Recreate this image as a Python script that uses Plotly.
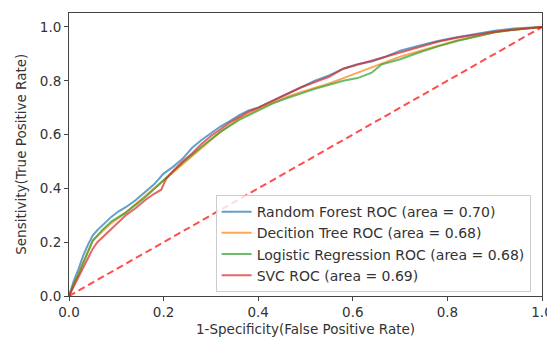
import plotly.graph_objects as go

# ROC data
rf_fpr = [0, 0.005, 0.01, 0.02, 0.03, 0.04, 0.05, 0.06, 0.075, 0.09, 0.105, 0.12, 0.14, 0.16, 0.18, 0.20, 0.22, 0.24, 0.26, 0.28, 0.30, 0.32, 0.34, 0.36, 0.38, 0.40, 0.43, 0.46, 0.49, 0.52, 0.55, 0.58, 0.61, 0.64, 0.67, 0.70, 0.74, 0.78, 0.82, 0.86, 0.90, 0.94, 0.97, 1.0]
rf_tpr = [0, 0.03, 0.055, 0.10, 0.15, 0.19, 0.225, 0.245, 0.27, 0.295, 0.315, 0.33, 0.355, 0.385, 0.415, 0.455, 0.48, 0.51, 0.55, 0.58, 0.605, 0.63, 0.65, 0.672, 0.69, 0.70, 0.725, 0.75, 0.775, 0.80, 0.82, 0.845, 0.862, 0.872, 0.89, 0.912, 0.93, 0.948, 0.962, 0.975, 0.986, 0.994, 0.998, 1.0]

dt_fpr = [0, 0.01, 0.02, 0.03, 0.04, 0.05, 0.07, 0.09, 0.12, 0.16, 0.20, 0.24, 0.28, 0.32, 0.36, 0.40, 0.43, 0.46, 0.49, 0.52, 0.55, 0.58, 0.61, 0.64, 0.67, 0.70, 0.74, 0.78, 0.82, 0.86, 0.90, 0.94, 0.97, 1.0]
dt_tpr = [0, 0.045, 0.085, 0.125, 0.165, 0.205, 0.24, 0.272, 0.31, 0.37, 0.43, 0.49, 0.55, 0.61, 0.66, 0.695, 0.718, 0.74, 0.758, 0.775, 0.79, 0.81, 0.83, 0.85, 0.87, 0.89, 0.91, 0.93, 0.95, 0.965, 0.98, 0.99, 0.996, 1.0]

lr_fpr = [0, 0.01, 0.02, 0.03, 0.04, 0.05, 0.07, 0.09, 0.12, 0.16, 0.20, 0.24, 0.28, 0.32, 0.36, 0.40, 0.43, 0.46, 0.49, 0.52, 0.55, 0.58, 0.61, 0.64, 0.66, 0.70, 0.74, 0.78, 0.82, 0.86, 0.90, 0.94, 0.97, 1.0]
lr_tpr = [0, 0.045, 0.08, 0.12, 0.16, 0.205, 0.245, 0.278, 0.31, 0.365, 0.43, 0.495, 0.555, 0.61, 0.655, 0.69, 0.715, 0.735, 0.753, 0.77, 0.785, 0.80, 0.81, 0.83, 0.86, 0.88, 0.905, 0.928, 0.948, 0.965, 0.98, 0.99, 0.996, 1.0]

svc_fpr = [0, 0.01, 0.02, 0.03, 0.04, 0.05, 0.06, 0.075, 0.09, 0.105, 0.12, 0.14, 0.16, 0.18, 0.195, 0.205, 0.22, 0.24, 0.26, 0.28, 0.30, 0.32, 0.34, 0.36, 0.38, 0.40, 0.43, 0.46, 0.49, 0.52, 0.55, 0.58, 0.61, 0.64, 0.67, 0.70, 0.74, 0.78, 0.82, 0.86, 0.90, 0.94, 0.97, 1.0]
svc_tpr = [0, 0.035, 0.07, 0.10, 0.135, 0.175, 0.2, 0.225, 0.25, 0.275, 0.30, 0.325, 0.355, 0.38, 0.395, 0.435, 0.465, 0.50, 0.53, 0.565, 0.595, 0.62, 0.645, 0.665, 0.685, 0.70, 0.725, 0.748, 0.775, 0.795, 0.815, 0.845, 0.86, 0.875, 0.89, 0.905, 0.925, 0.945, 0.96, 0.972, 0.982, 0.99, 0.996, 1.0]

chance = [0, 1]

names = ["Random Forest ROC (area = 0.70)", "Decition Tree ROC (area = 0.68)",
         "Logistic Regression ROC (area = 0.68)", "SVC ROC (area = 0.69)"]
colors = ["rgba(31,119,180,0.7)", "rgba(255,127,14,0.7)", "rgba(44,160,44,0.7)", "rgba(214,39,40,0.7)"]
series = [(rf_fpr, rf_tpr), (dt_fpr, dt_tpr), (lr_fpr, lr_tpr), (svc_fpr, svc_tpr)]

fig = go.Figure()
for (fx, ty), n, c in zip(series, names, colors):
    fig.add_trace(go.Scatter(x=fx, y=ty, mode="lines", name=n, line=dict(color=c, width=2)))
fig.add_trace(go.Scatter(x=chance, y=chance, mode="lines", showlegend=False,
                         line=dict(color="rgba(255,0,0,0.7)", width=2, dash="7px,4px")))

font = dict(family="DejaVu Sans", size=14, color="#333")
tfont = dict(family="DejaVu Sans", size=13.5, color="#333")
axis_common = dict(showline=True, linecolor="#444", linewidth=1, mirror=True, ticks="outside",
                   ticklen=4, tickcolor="#444", showgrid=False, zeroline=False, tickformat=".1f",
                   tickfont=tfont, automargin=False, ticklabeloverflow="allow")
fig.update_layout(
    width=547, height=337,
    margin=dict(l=69, r=5, t=13, b=41, autoexpand=False),
    paper_bgcolor="white", plot_bgcolor="white",
    font=font,
    xaxis=dict(range=[0, 1], dtick=0.2, **axis_common),
    yaxis=dict(range=[0, 1.052], tickvals=[0, 0.2, 0.4, 0.6, 0.8, 1.0], **axis_common),
    legend=dict(x=0.31, y=0.014, xanchor="left", yanchor="bottom", bgcolor="rgba(255,255,255,0.8)",
                bordercolor="#ccc", borderwidth=1, font=font, tracegroupgap=0),
    annotations=[
        dict(text="1-Specificity(False Positive Rate)", xref="paper", yref="paper", x=0.5, y=-0.118,
             xanchor="center", yanchor="middle", showarrow=False, font=tfont),
        dict(text="Sensitivity(True Positive Rate)", xref="paper", yref="paper", x=-0.103, y=0.5,
             xanchor="center", yanchor="middle", showarrow=False, font=tfont, textangle=-90),
    ],
)
fig.write_html("out.html", config={"displayModeBar": False},
               post_script="document.body.style.margin='0';document.body.style.overflow='hidden';")
